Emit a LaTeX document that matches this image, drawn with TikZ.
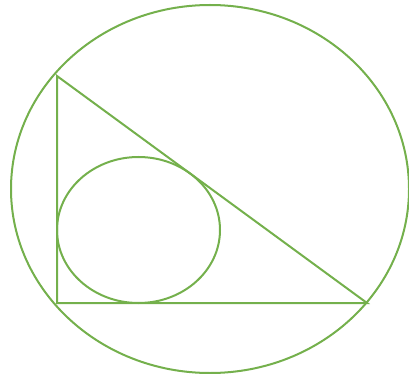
\documentclass[tikz,border=0pt]{standalone}
\usepackage{tikz}
\definecolor{figGreen}{RGB}{116,176,76}

\begin{document}
\begin{tikzpicture}[
    x=1pt, y=-1pt,
    geo/.style={draw=figGreen, line width=2pt, line join=miter}
  ]
  \useasboundingbox (0,0) rectangle (409,374);

  % outer ellipse
  \draw[geo] (210,189) ellipse [x radius=199, y radius=184];

  % right triangle
  \coordinate (A) at (57,76);
  \coordinate (B) at (57,303);
  \coordinate (C) at (367,303);
  \draw[geo] (A) -- (B) -- (C) -- cycle;

  % inner ellipse
  \draw[geo] (138.5,230) ellipse [x radius=81.5, y radius=73];
\end{tikzpicture}
\end{document}
